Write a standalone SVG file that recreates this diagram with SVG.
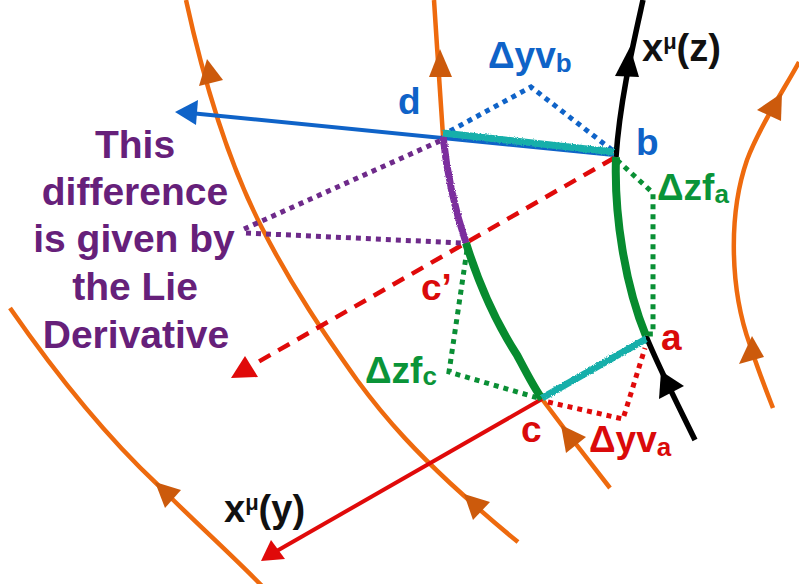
<svg xmlns="http://www.w3.org/2000/svg" width="799" height="584" viewBox="0 0 799 584">
<style>
.orange{fill:none;stroke:#EE6A0E;stroke-width:4.5;stroke-linecap:butt}
.oarr{fill:#CC5A0C}
.lbl{font-family:"Liberation Sans",Arial,sans-serif;font-weight:bold;font-size:37px}
.blk{font-family:"Liberation Sans",Arial,sans-serif;font-weight:bold;font-size:38px;fill:#111}
.pur{font-family:"Liberation Sans",Arial,sans-serif;font-weight:bold;font-size:39px;fill:#66207A;text-anchor:middle}
.dot{fill:none;stroke-width:5;stroke-dasharray:5 5}
</style>
<defs>
<filter id="rough" x="-10%" y="-50%" width="120%" height="200%">
<feTurbulence type="fractalNoise" baseFrequency="0.9" numOctaves="2" seed="3"/>
<feDisplacementMap in="SourceGraphic" scale="3" xChannelSelector="R" yChannelSelector="G"/>
</filter>
</defs>
<rect width="799" height="584" fill="#fff"/>

<g id="flow-lines">
<path class="orange" d="M10,308 C60,380 110,440 158,485 C195,522 235,558 262,586"/>
<path class="orange" d="M186,0 C198,55 222,150 262,228 C292,287 325,335 357,380 C390,425 420,455 450,483 C475,506 497,525 518,542"/>
<path class="orange" d="M434,0 C437,45 440,95 443,136 C447,175 455,210 466,243 C477,278 493,318 517,355 C525,370 533,386 542,399 C565,430 588,460 610,488"/>
<path class="orange" d="M799,62 C785,88 760,125 747,160 C728,215 730,290 750,345 C758,370 766,390 773,408"/>
<polygon class="oarr" points="155,482 181,490 165,508"/>
<polygon class="oarr" points="207,59 223,80 199,86"/>
<polygon class="oarr" points="464,494 490,502 473,520"/>
<polygon class="oarr" points="440,49 452,77 429,77"/>
<polygon class="oarr" points="561,425 586,437 566,453"/>
<polygon class="oarr" points="782,93 781,121 757,110"/>
<polygon class="oarr" points="752,336 764,357 739,364"/>
</g>

<g id="curve-z">
<path d="M643,0 C633,45 620,100 616,157" fill="none" stroke="#000" stroke-width="5.5"/>
<path d="M646,336 C660,370 678,405 695,440" fill="none" stroke="#000" stroke-width="5.5"/>
<polygon points="630,47 639,77 615,76" fill="#000"/>
<polygon points="661,371 684,386 659,399" fill="#000"/>
</g>

<g id="connectors">
<line x1="614" y1="155" x2="190" y2="113" stroke="#0F63C8" stroke-width="4"/>
<polygon points="175,112 198,100 196,125" fill="#0F63C8"/>
<line x1="542" y1="399" x2="275" y2="552" stroke="#E00A0A" stroke-width="4"/>
<polygon points="261,561 271,540 285,559" fill="#E00A0A"/>
<line x1="614" y1="158" x2="258" y2="362" stroke="#E00A0A" stroke-width="4.5" stroke-dasharray="13 9"/>
<polygon points="245,356 258,377 231,378" fill="#E00A0A"/>
<polyline class="dot" stroke="#0F63C8" points="450,131 531,87 612,150"/>
<polyline class="dot" stroke="#0A8F35" points="617,160 653,193 653,334 646,334"/>
<polyline class="dot" stroke="#0A8F35" points="467,250 449,372 538,398"/>
<polyline class="dot" stroke="#E00A0A" points="548,402 623,419 645,348"/>
<polyline class="dot" stroke="#6E2A8A" points="244,229 442,140"/>
<polyline class="dot" stroke="#6E2A8A" points="246,233 462,243"/>
</g>

<g id="segments">
<path d="M443,136 C447,175 455,210 466,243" fill="none" stroke="#7B2E9E" stroke-width="7" filter="url(#rough)"/>
<path d="M466,243 C477,278 493,318 517,355 C525,370 533,386 542,399" fill="none" stroke="#078B2F" stroke-width="8"/>
<path d="M616,157 C614,215 625,285 646,336" fill="none" stroke="#078B2F" stroke-width="8"/>
<line x1="443" y1="133" x2="614" y2="152" stroke="#19AFAA" stroke-width="7" filter="url(#rough)"/>
<line x1="542" y1="398" x2="646" y2="339" stroke="#19AFAA" stroke-width="7" filter="url(#rough)"/>
</g>

<g id="labels">
<text class="lbl" x="398" y="114" fill="#0F63C8">d</text>
<text class="lbl" x="488" y="68" fill="#0F63C8">Δyv<tspan font-size="26" dy="4">b</tspan></text>
<text class="lbl" x="636" y="155" fill="#0F63C8">b</text>
<text class="lbl" x="657" y="200" fill="#0A9438">Δzf<tspan font-size="26" dy="3">a</tspan></text>
<text class="lbl" x="421" y="300" fill="#DA0A0A">c’</text>
<text class="lbl" x="661" y="350" fill="#DA0A0A">a</text>
<text class="lbl" x="365" y="383" fill="#0A9438">Δzf<tspan font-size="26" dy="2">c</tspan></text>
<text class="lbl" x="521" y="442" fill="#DA0A0A">c</text>
<text class="lbl" x="589" y="452" fill="#DA0A0A">Δyv<tspan font-size="26" dy="4">a</tspan></text>
<text class="blk" x="642" y="61">x<tspan font-size="22" dy="-12">μ</tspan><tspan dy="12">(z)</tspan></text>
<text class="blk" x="224" y="522">x<tspan font-size="22" dy="-12">μ</tspan><tspan dy="12">(y)</tspan></text>
</g>

<g id="note">
<text class="pur" x="135" y="158">This</text>
<text class="pur" x="135" y="205">difference</text>
<text class="pur" x="134" y="252">is given by</text>
<text class="pur" x="135" y="300">the Lie</text>
<text class="pur" x="136" y="348">Derivative</text>
</g>
</svg>
